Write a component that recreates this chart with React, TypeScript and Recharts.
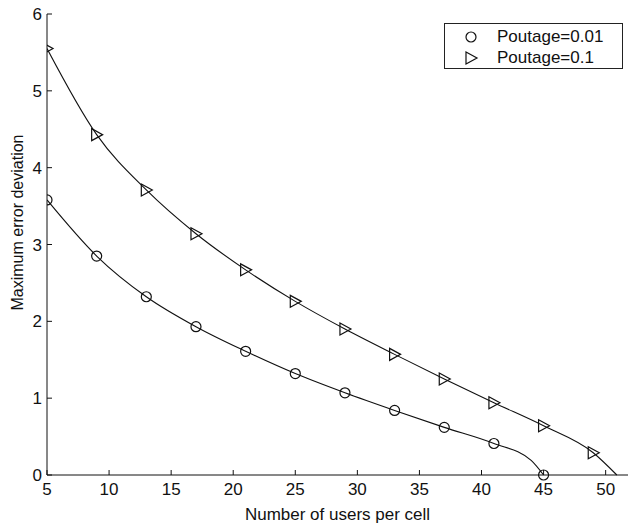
import React from 'react';
import { ComposedChart, Line, Scatter, XAxis, YAxis, Legend } from 'recharts';

// users per cell where the markers sit
const markerUsers = [5, 9, 13, 17, 21, 25, 29, 33, 37, 41, 45, 49];
// maximum error deviation, Poutage = 0.01 (ends at 45 users)
const deviation001 = [3.58, 2.85, 2.32, 1.93, 1.61, 1.32, 1.07, 0.84, 0.62, 0.41, 0];
// maximum error deviation, Poutage = 0.1
const deviation01 = [5.55, 4.43, 3.71, 3.14, 2.67, 2.26, 1.9, 1.57, 1.25, 0.94, 0.64, 0.29];
// extra points on the fitted curves (no marker)
const curveOnly001 = [{ x: 44, y: 0.19 }];
const curveOnly01 = [{ x: 50.9, y: 0 }];

const xTicks = [5, 10, 15, 20, 25, 30, 35, 40, 45, 50];
const yTicks = [0, 1, 2, 3, 4, 5, 6];
const seriesNames = ['Poutage=0.01', 'Poutage=0.1'];

const toPoints = (vals: number[]) => vals.map((y, i) => ({ x: markerUsers[i], y }));
const points001 = toPoints(deviation001);
const points01 = toPoints(deviation01);
const curve001 = [...points001, ...curveOnly001].sort((a, b) => a.x - b.x);
const curve01 = [...points01, ...curveOnly01].sort((a, b) => a.x - b.x);

const FONT = '"Liberation Sans", Arial, Helvetica, sans-serif';
const INK = '#111';

const CircleMark = (p: any) => (
  <circle cx={p.cx} cy={p.cy} r={5} fill="none" stroke={INK} strokeWidth={1.2} />
);

const TriangleMark = (p: any) => (
  <path
    d={`M${p.cx - 5},${p.cy - 6} L${p.cx + 6},${p.cy} L${p.cx - 5},${p.cy + 6} Z`}
    fill="none"
    stroke={INK}
    strokeWidth={1.2}
  />
);

const LegendBox = () => (
  <div
    style={{
      width: 179,
      height: 46,
      border: '1px solid #222',
      background: '#fff',
      fontFamily: FONT,
      fontSize: 17,
      color: INK,
      boxSizing: 'border-box',
      paddingTop: 2,
    }}
  >
    {seriesNames.map((name) => (
      <div key={name} style={{ display: 'flex', alignItems: 'center', height: 21 }}>
        <svg width={52} height={21}>
          {name === seriesNames[0] ? <CircleMark cx={26} cy={11} /> : <TriangleMark cx={26} cy={11} />}
        </svg>
        <span>{name}</span>
      </div>
    ))}
  </div>
);

const YTitle = (props: any) => {
  const vb = props.viewBox || { x: 0, y: 0, width: 0, height: 0 };
  const x = vb.x + 17;
  const y = vb.y + vb.height / 2 - 22;
  return (
    <text
      x={x}
      y={y}
      transform={`rotate(-90 ${x} ${y})`}
      textAnchor="middle"
      dominantBaseline="central"
      fontFamily={FONT}
      fontSize={16}
      fill={INK}
    >
      Maximum error deviation
    </text>
  );
};

export default function App() {
  const tick = { fontFamily: FONT, fontSize: 17, fill: INK };
  return (
    <div style={{ position: 'absolute', left: 0, top: 0, background: '#fff' }}>
      <ComposedChart width={629} height={525} margin={{ top: 14, right: 1, bottom: 0, left: 0 }}>
        <XAxis
          xAxisId="bottom"
          dataKey="x"
          type="number"
          domain={[5, 51.8]}
          ticks={xTicks}
          allowDataOverflow
          height={50}
          tickSize={-5}
          tickMargin={13}
          tick={tick}
          stroke={INK}
          label={{
            value: 'Number of users per cell',
            position: 'insideBottom',
            offset: 5,
            style: { fontFamily: FONT, fontSize: 17, fill: INK },
          }}
        />
        <XAxis
          xAxisId="top"
          orientation="top"
          dataKey="x"
          type="number"
          domain={[5, 51.8]}
          ticks={xTicks}
          allowDataOverflow
          height={0}
          tickSize={-5}
          tick={false}
          stroke={INK}
        />
        <YAxis
          yAxisId="left"
          dataKey="y"
          type="number"
          domain={[0, 6]}
          ticks={yTicks}
          width={47}
          tickSize={-5}
          tickMargin={10}
          tick={tick}
          stroke={INK}
          label={<YTitle />}
        />
        <YAxis
          yAxisId="right"
          orientation="right"
          dataKey="y"
          type="number"
          domain={[0, 6]}
          ticks={yTicks}
          width={0}
          tickSize={-5}
          tick={false}
          stroke={INK}
        />
        <Line
          xAxisId="bottom"
          yAxisId="left"
          data={curve001}
          dataKey="y"
          type="monotone"
          stroke={INK}
          strokeWidth={1.1}
          dot={false}
          legendType="none"
          isAnimationActive={false}
        />
        <Line
          xAxisId="bottom"
          yAxisId="left"
          data={curve01}
          dataKey="y"
          type="monotone"
          stroke={INK}
          strokeWidth={1.1}
          dot={false}
          legendType="none"
          isAnimationActive={false}
        />
        <Scatter
          xAxisId="bottom"
          yAxisId="left"
          name={seriesNames[0]}
          data={points001}
          dataKey="y"
          shape={CircleMark}
          isAnimationActive={false}
        />
        <Scatter
          xAxisId="bottom"
          yAxisId="left"
          name={seriesNames[1]}
          data={points01}
          dataKey="y"
          shape={TriangleMark}
          isAnimationActive={false}
        />
        <Legend
          layout="horizontal"
          verticalAlign="middle"
          align="center"
          content={<LegendBox />}
          wrapperStyle={{ position: 'absolute', top: 23, left: 444, width: 179 }}
        />
      </ComposedChart>
    </div>
  );
}
